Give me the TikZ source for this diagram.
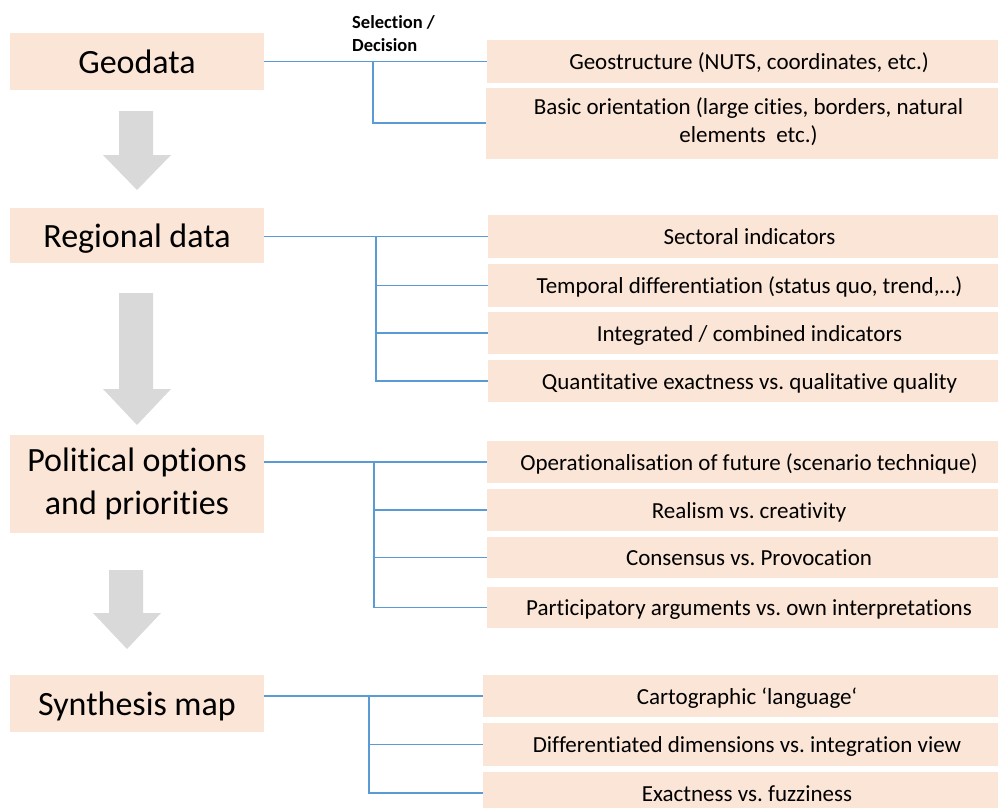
\documentclass[tikz,border=0pt]{standalone}
\usepackage{fontspec}
\setmainfont{Carlito}[Ligatures={NoCommon}]
\frenchspacing
\definecolor{peach}{HTML}{FBE5D6}
\definecolor{linkblue}{HTML}{5B9BD5}
\definecolor{arrowgray}{HTML}{D9D9D9}
\begin{document}
\begin{tikzpicture}[x=1pt,y=-1pt,
  stage/.style={fill=peach, inner sep=0pt, minimum width=254pt, text=black,
    font=\fontsize{34}{43}\selectfont},
  stageone/.style={stage, text height=23pt, text depth=0pt},
  item/.style={fill=peach, inner sep=0pt, text=black,
    font=\fontsize{23}{28}\selectfont},
  itemone/.style={item, text height=16.3pt, text depth=0pt},
  link/.style={draw=linkblue, line width=1.1pt},
  blockarrow/.style={fill=arrowgray}]
\useasboundingbox (0,0) rectangle (998,807);
\clip (0,0) rectangle (998,807);

% --- left column: the four stages ---
\node[stageone, minimum height=57pt] (geo) at (137,61.5) {Geodata};
\node[stageone, minimum height=55pt] (reg) at (137,235.5) {Regional data};
\node[stage, minimum height=98pt] (pol) at (137,484)
  {\begin{tabular}{@{}c@{}}Political options\\and priorities\end{tabular}};
\node[stageone, minimum height=57pt] (syn) at (137,703.5) {Synthesis map};

% --- block arrows between the stages ---
\fill[blockarrow] (119,111) -- (153,111) -- (153,155) -- (171,155) -- (137,190) -- (103,155) -- (119,155) -- cycle;
\fill[blockarrow] (119,293) -- (153,293) -- (153,389) -- (171,389) -- (137,425) -- (103,389) -- (119,389) -- cycle;
\fill[blockarrow] (109,570) -- (143,570) -- (143,613) -- (161,613) -- (127,649) -- (93,613) -- (109,613) -- cycle;

% --- header of the branching lines ---
\node[anchor=north west, inner sep=0pt, text=black,
  font=\fontsize{18.5}{23}\selectfont\bfseries] (sel) at (352,12)
  {\begin{tabular}{@{}l@{}}Selection /\\Decision\end{tabular}};

% --- right column: aspects of each stage ---
\node[itemone, minimum width=524pt, minimum height=43pt] (g1) at (749,61.5) {Geostructure (NUTS, coordinates, etc.)};
\node[item, minimum width=525pt, minimum height=71pt] (g2) at (748.5,123)
  {\begin{tabular}{@{}c@{}}Basic orientation (large cities, borders, natural\\elements~ etc.)\end{tabular}};

\node[itemone, minimum width=523pt, minimum height=43pt] (r1) at (749.5,236.5) {Sectoral indicators};
\node[itemone, minimum width=523pt, minimum height=43pt] (r2) at (749.5,285.5) {Temporal differentiation (status quo, trend,…)};
\node[itemone, minimum width=523pt, minimum height=42pt] (r3) at (749.5,333) {Integrated / combined indicators};
\node[itemone, minimum width=523pt, minimum height=42pt] (r4) at (749.5,381) {Quantitative exactness vs. qualitative quality};

\node[itemone, minimum width=524pt, minimum height=42pt] (p1) at (749,462) {Operationalisation of future (scenario technique)};
\node[itemone, minimum width=524pt, minimum height=42pt] (p2) at (749,510) {Realism vs. creativity};
\node[itemone, minimum width=524pt, minimum height=41pt] (p3) at (749,557.5) {Consensus vs. Provocation};
\node[itemone, minimum width=524pt, minimum height=41pt] (p4) at (749,607.5) {Participatory arguments vs. own interpretations};

\node[itemone, minimum width=528pt, minimum height=42pt] (s1) at (747,696) {Cartographic ‘language‘};
\node[itemone, minimum width=528pt, minimum height=43pt] (s2) at (747,744.5) {Differentiated dimensions vs. integration view};
\node[itemone, minimum width=528pt, minimum height=42pt] (s3) at (747,793) {Exactness vs. fuzziness};

% --- branching connectors ---
\coordinate (gt) at (373,61.5);
\draw[link] (geo.east |- g1.west) -- (g1.west);
\draw[link] (gt) |- (g2.west);

\coordinate (rt) at (376,236.5);
\draw[link] (reg.east |- r1.west) -- (r1.west);
\draw[link] (rt) |- (r4.west);
\draw[link] (rt |- r2.west) -- (r2.west);
\draw[link] (rt |- r3.west) -- (r3.west);

\coordinate (pt) at (374,462);
\draw[link] (pol.east |- p1.west) -- (p1.west);
\draw[link] (pt) |- (p4.west);
\draw[link] (pt |- p2.west) -- (p2.west);
\draw[link] (pt |- p3.west) -- (p3.west);

\coordinate (st) at (369,696);
\draw[link] (syn.east |- s1.west) -- (s1.west);
\draw[link] (st) |- (s3.west);
\draw[link] (st |- s2.west) -- (s2.west);
\end{tikzpicture}
\end{document}
